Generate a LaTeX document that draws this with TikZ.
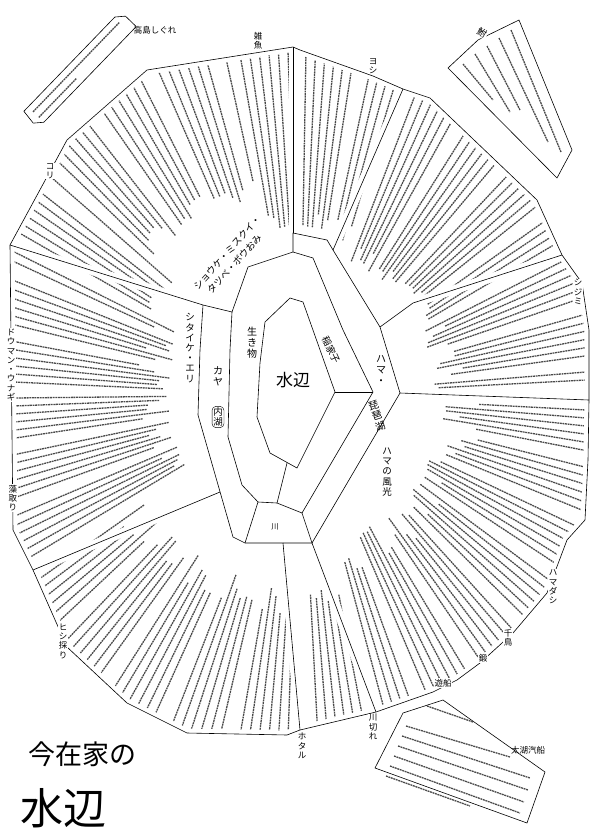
\documentclass[tikz,border=0pt]{standalone}
\usepackage{fontspec}
\setmainfont{Noto Sans CJK JP}
\usetikzlibrary{calc}
\definecolor{inkgray}{HTML}{4A4A4A}
\tikzset{
  rim/.style={draw=black, line width=0.6pt, line join=round},
  knock/.style={draw=white, line width=9pt, line join=round},
  noteline/.style={draw=inkgray, line width=1.3pt, dash pattern=on 1.9pt off 0.7pt},
  vlabel/.style={font=\fontsize{9.5}{10.2}\selectfont, align=center, inner sep=0.6pt},
  edgelabel/.style={vlabel, fill=white, font=\fontsize{8.5}{9.3}\selectfont},
  panel/.style={draw=black, line width=0.6pt, fill=white, line join=round}
}
% a fan of radial text lines: start angle, count, step, inner radius, ragged part
\newcommand{\notefan}[5]{%
  \foreach \k in {0,...,#2}{%
    \pgfmathsetmacro{\ang}{#1+\k*#3}%
    \pgfmathsetmacro{\rin}{#4+rnd*#5}%
    \pgfmathtruncatemacro{\gap}{mod(\k,7)}%
    \ifnum\gap=6 \else \draw[noteline] (\ang:\rin) -- (\ang:430); \fi
  }}

\begin{document}
\begin{tikzpicture}[x=1pt,y=-1pt]
\useasboundingbox (0,0) rectangle (592,833);
\pgfmathsetseed{7}

% notes round the rings
\begin{scope}
  \clip (147,70) -- (293,47) -- (300,50) -- (373,76) -- (403,89) -- (430,98) -- (537,200)
    -- (562,255) -- (582,283) -- (589,330) -- (589,400) -- (588,460) -- (585,520) -- (567,540)
    -- (547,593) -- (513,633) -- (480,663) -- (457,680) -- (433,692) -- (376,712) -- (300,730)
    -- (287,735) -- (187,733) -- (127,703) -- (67,647) -- (33,570) -- (13,530) -- (10,245)
    -- (67,140) -- cycle;
  \begin{scope}[shift={(300,395)}]
    \notefan{3}{45}{1.6}{140}{45}
    \notefan{79}{6}{1.6}{195}{20}
    \notefan{92}{33}{1.6}{190}{30}
    \notefan{149}{36}{1.6}{130}{35}
    \notefan{210}{7}{1.6}{165}{25}
    \notefan{224}{21}{1.6}{200}{25}
    \notefan{260}{5}{1.6}{168}{20}
    \notefan{271}{10}{1.6}{160}{25}
    \notefan{291}{24}{1.6}{140}{20}
    \notefan{333}{15}{1.6}{135}{30}
  \end{scope}
\end{scope}

% clear margins round the lines
\fill[white] (203,305) -- (232,312) -- (248,267) -- (293,252) -- (293,233) -- (327,240)
  -- (333,250) -- (380,327) -- (400,393) -- (312,543) -- (245,543) -- (233,537)
  -- (198,415) -- (200,350) -- cycle;
\draw[knock] (203,305) -- (232,312) -- (248,267) -- (293,252) -- (293,233) -- (327,240)
  -- (333,250) -- (380,327) -- (400,393) -- (312,543) -- (245,543) -- (233,537)
  -- (198,415) -- (200,350) -- cycle;
\draw[knock] (147,70) -- (293,47) -- (300,50) -- (373,76) -- (403,89) -- (430,98) -- (537,200)
  -- (562,255) -- (582,283) -- (589,330) -- (589,400) -- (588,460) -- (585,520) -- (567,540)
  -- (547,593) -- (513,633) -- (480,663) -- (457,680) -- (433,692) -- (376,712) -- (300,730)
  -- (287,735) -- (187,733) -- (127,703) -- (67,647) -- (33,570) -- (13,530) -- (10,245)
  -- (67,140) -- cycle;
\draw[knock] (10,245) -- (203,305);
\draw[knock] (293,47) -- (293,233);
\draw[knock] (403,89) -- (333,250);
\draw[knock] (380,327) -- (413,303) -- (562,255);
\draw[knock] (400,393) -- (589,400);
\draw[knock] (312,543) -- (376,712);
\draw[knock] (283,543) -- (300,730);
\draw[knock] (220,492) -- (33,570);

% outline and dividers
\draw[rim] (147,70) -- (293,47) -- (300,50) -- (373,76) -- (403,89) -- (430,98) -- (537,200)
  -- (562,255) -- (582,283) -- (589,330) -- (589,400) -- (588,460) -- (585,520) -- (567,540)
  -- (547,593) -- (513,633) -- (480,663) -- (457,680) -- (433,692) -- (376,712) -- (300,730)
  -- (287,735) -- (187,733) -- (127,703) -- (67,647) -- (33,570) -- (13,530) -- (10,245)
  -- (67,140) -- cycle;
\draw[rim] (10,245) -- (203,305) -- (232,312);
\draw[rim] (293,47) -- (293,233);
\draw[rim] (403,89) -- (333,250);
\draw[rim] (380,327) -- (413,303) -- (562,255);
\draw[rim] (400,393) -- (589,400);
\draw[rim] (312,543) -- (376,712);
\draw[rim] (283,543) -- (300,730);
\draw[rim] (220,492) -- (33,570);

% rings
\draw[rim] (203,305) -- (200,350) -- (198,415) -- (233,537) -- (245,543) -- (312,543)
  -- (400,393) -- (380,327) -- (333,250) -- (327,240) -- (293,233) -- (293,252);
\draw[rim] (232,312) -- (248,267) -- (293,252) -- (313,258) -- (343,330) -- (373,392)
  -- (302,513) -- (277,503) -- (258,502) -- (242,485) -- (228,437) -- (230,350) -- cycle;
\draw[rim] (265,322) -- (290,298) -- (303,302) -- (335,392) -- (297,468) -- (270,453)
  -- (257,417) -- (260,363) -- cycle;
\draw[rim] (335,392) -- (373,392);
\draw[rim] (287,463) -- (277,503);
\draw[rim] (258,502) -- (245,543);
\draw[rim] (302,513) -- (312,543);

% ring labels
\node[font=\fontsize{17}{17}\selectfont, inner sep=0pt] (mizube) at (293,380) {水辺};
\node[vlabel, font=\fontsize{10}{11}\selectfont] (ikimono) at (252,343) {生\\き\\物};
\node[vlabel, rotate=-65] (inaka) at (331,350) {稲家子};
\node[vlabel, font=\fontsize{10}{11}\selectfont] (hama) at (381,370) {ハ\\マ\\・};
\node[vlabel, font=\fontsize{10}{11}\selectfont, rotate=18] (biwa) at (377,416) {琵\\琶\\湖};
\node[vlabel] (hamafuko) at (387,472) {ハ\\マ\\の\\風\\光};
\node[vlabel, font=\fontsize{10}{11}\selectfont] (kaya) at (218,376) {カ\\ヤ};
\node[vlabel, draw, rounded corners=4pt, inner sep=1.2pt] (naiko) at (218,417) {内\\湖};
\node[vlabel] (shitaike) at (190,348) {シ\\タ\\イ\\ケ\\・\\エ\\リ};
\node[vlabel, font=\fontsize{7.5}{8}\selectfont] (kawa) at (275,527) {川};
\node[vlabel, align=left, font=\fontsize{9.5}{13}\selectfont, rotate=48] (shouke) at (232,257)
  {ショウケ・ミスクイ・\\\hspace{6pt}タツベ・ボウおみ};

% labels on the rim
\node[edgelabel] (zako) at (258,41) {雑\\魚};
\node[edgelabel] (yoshi) at (373,66) {ヨ\\シ};
\node[edgelabel] (shijimi) at (578,292) {シ\\ジ\\ミ};
\node[edgelabel] (hamadashi) at (553,587) {ハ\\マ\\ダ\\シ};
\node[edgelabel] (chidori) at (508,638) {千\\鳥};
\node[edgelabel] (kaji) at (483,658) {鍛};
\node[edgelabel] (yusen) at (443,683) {遊船};
\node[edgelabel] (kawakire) at (373,727) {川\\切\\れ};
\node[edgelabel] (hotaru) at (302,746) {ホ\\タ\\ル};
\node[edgelabel] (hishi) at (63,641) {ヒ\\シ\\採\\り};
\node[edgelabel] (motori) at (13,498) {藻\\取\\り};
\node[edgelabel] (douman) at (11,365) {ド\\ウ\\マ\\ン\\・\\ウ\\ナ\\ギ};
\node[edgelabel] (kori) at (50,171) {コ\\リ};

% loose notes
\begin{scope}[shift={(79,70)}, rotate=46]
  \draw[panel] (-68,-11) -- (63,-11) -- (71,-4) -- (71,11) -- (-62,11) -- (-70,4) -- cycle;
  \draw[noteline] (-62,-4) -- (62,-4);
  \draw[noteline] (-62,4) -- (-8,4);
\end{scope}
\node[vlabel, font=\fontsize{8.5}{9}\selectfont] (takashima) at (155,30) {高島しぐれ};

\draw[panel] (448,68) -- (478,40) -- (519,20) -- (572,150) -- (557,178) -- cycle;
\draw[noteline] (511,30) -- (561,152);
\draw[noteline] (499,38) -- (548,142);
\draw[noteline] (487,46) -- (520,110);
\draw[noteline] (475,54) -- (510,112);
\draw[noteline] (463,64) -- (493,100);
\node[vlabel, fill=white, rotate=-30] (funa) at (482,33) {鮒};

\draw[panel] (375,768) -- (403,713) -- (443,700) -- (545,772) -- (527,823) -- cycle;
\draw[noteline] (427,706) -- (473,722);
\draw[noteline] (406,726) -- (510,757);
\draw[noteline] (402,736) -- (530,778);
\draw[noteline] (398,746) -- (528,790);
\draw[noteline] (394,756) -- (524,802);
\draw[noteline] (390,766) -- (520,813);
\draw[noteline] (386,776) -- (470,806);
\node[vlabel, font=\fontsize{8.5}{9}\selectfont] (taiko) at (528,750) {太湖汽船};

% title
\node[font=\fontsize{27}{27}\selectfont, inner sep=0pt] (title) at (82,754) {今在家の};
\node[font=\fontsize{43}{43}\selectfont, inner sep=0pt] (titlemain) at (63,808) {水辺};
\end{tikzpicture}
\end{document}
